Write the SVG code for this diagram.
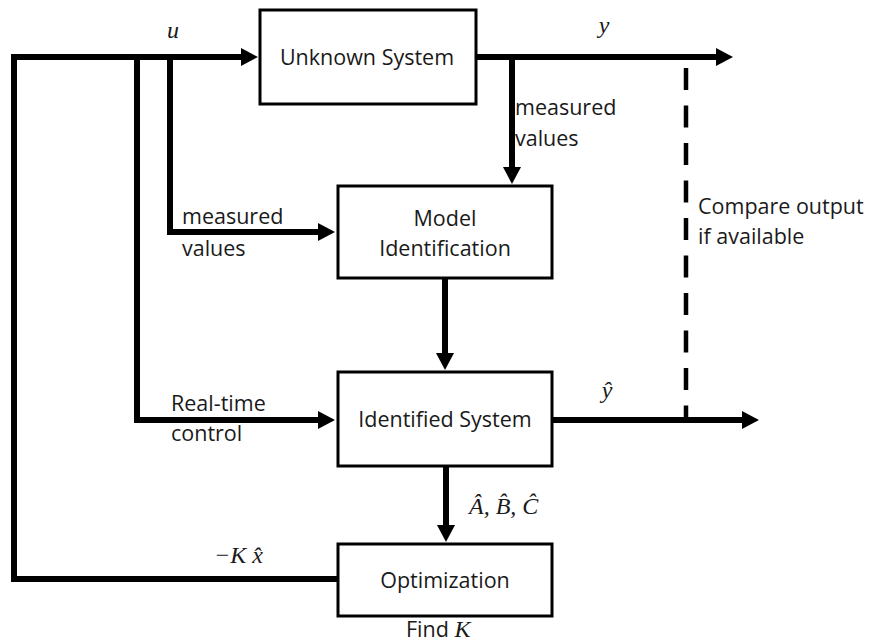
<svg xmlns="http://www.w3.org/2000/svg" width="875" height="643" viewBox="0 0 875 643">
<defs>
<style>
.box{fill:#fff;stroke:#000;stroke-width:3}
.ln{fill:none;stroke:#000;stroke-width:6}
.dash{fill:none;stroke:#000;stroke-width:4.5;stroke-dasharray:22 15.5}
.t{font-family:"Open Sans","Liberation Sans",sans-serif;font-size:21.5px;fill:#1a1a1a}
.c{text-anchor:middle}
.m{font-family:"Liberation Serif","DejaVu Serif",serif;font-style:italic;font-size:24px;fill:#1a1a1a}
</style>
<marker id="ah" markerUnits="userSpaceOnUse" markerWidth="18" markerHeight="18" refX="7" refY="9" orient="auto">
<path d="M0,0 L17,9 L0,18 Z" fill="#000"/>
</marker>
</defs>
<rect width="875" height="643" fill="#fff"/>
<g id="connectors">
<path class="ln" d="M338,579 H14 V57 H248" marker-end="url(#ah)"/>
<path class="ln" d="M137,57 V420 H325" marker-end="url(#ah)"/>
<path class="ln" d="M170,57 V232 H325" marker-end="url(#ah)"/>
<path class="ln" d="M476,57 H723" marker-end="url(#ah)"/>
<path class="ln" d="M512,57 V174" marker-end="url(#ah)"/>
<path class="ln" d="M445,279 V360" marker-end="url(#ah)"/>
<path class="ln" d="M552,420 H749" marker-end="url(#ah)"/>
<path class="ln" d="M446,466 V532" marker-end="url(#ah)"/>
<path class="dash" d="M686,68 V420"/>
</g>
<g id="unknown-system">
<rect class="box" x="260" y="10" width="216" height="94"/>
<text class="t c" x="367" y="65">Unknown System</text>
</g>
<g id="model-identification">
<rect class="box" x="338" y="186" width="214" height="92"/>
<text class="t c" x="445" y="226">Model</text>
<text class="t c" x="445" y="256">Identification</text>
</g>
<g id="identified-system">
<rect class="box" x="338" y="372" width="214" height="94"/>
<text class="t c" x="445" y="427">Identified System</text>
</g>
<g id="optimization">
<rect class="box" x="338" y="544" width="214" height="72"/>
<text class="t c" x="445" y="588">Optimization</text>
</g>
<g id="labels">
<text class="m c" x="173" y="38">u</text>
<text class="m c" x="604" y="33">y</text>
<text class="m c" x="607" y="398">ŷ</text>
<text class="m" x="214" y="563">−K x̂</text>
<text class="m" x="469" y="514">Â, B̂, Ĉ</text>
<text class="t" x="406" y="637">Find <tspan class="m">K</tspan></text>
<text class="t" x="515" y="115">measured</text>
<text class="t" x="515" y="146">values</text>
<text class="t" x="182" y="224">measured</text>
<text class="t" x="182" y="256">values</text>
<text class="t" x="171" y="411">Real-time</text>
<text class="t" x="171" y="441">control</text>
<text class="t" x="698" y="214">Compare output</text>
<text class="t" x="698" y="244">if available</text>
</g>
</svg>
